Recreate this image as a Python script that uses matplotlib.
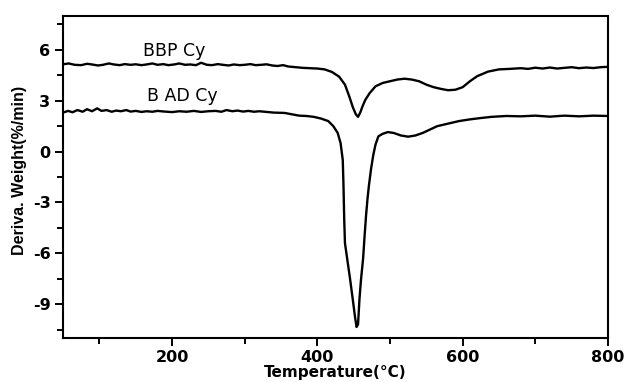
import numpy as np
import matplotlib
matplotlib.use('Agg')
import matplotlib.pyplot as plt
from matplotlib.ticker import MultipleLocator

# DTG curves (temperature in C, derivative weight in %/min)
bbp_T = [50, 58, 66, 75, 83, 90, 98, 105, 113, 120, 128, 135, 143, 150, 158, 165,
         173, 180, 188, 195, 203, 210, 218, 225, 233, 240, 248, 255, 263, 270, 278,
         285, 293, 300, 308, 315, 323, 330, 338, 345, 353, 360, 370, 380, 390, 400,
         410, 420, 430, 438, 444, 449, 453, 456, 459, 462, 466, 472, 480, 490, 500,
         510, 520, 530, 540, 550, 560, 570, 580, 590, 600, 610, 620, 635, 650, 665,
         680, 690, 700, 710, 720, 730, 740, 750, 760, 770, 780, 790, 800]
bbp_y = [5.15, 5.2, 5.12, 5.1, 5.18, 5.14, 5.08, 5.12, 5.2, 5.14, 5.1, 5.16, 5.12, 5.15, 5.1, 5.14,
         5.2, 5.12, 5.16, 5.1, 5.14, 5.2, 5.12, 5.14, 5.1, 5.24, 5.12, 5.1, 5.16, 5.12, 5.08,
         5.14, 5.1, 5.12, 5.16, 5.1, 5.12, 5.15, 5.08, 5.05, 5.1, 5.02, 4.98, 4.94, 4.92, 4.9,
         4.85, 4.7, 4.42, 3.95, 3.25, 2.6, 2.2, 2.05, 2.3, 2.65, 3.05, 3.45, 3.85, 4.05, 4.15,
         4.25, 4.3, 4.25, 4.15, 3.95, 3.8, 3.7, 3.62, 3.65, 3.8, 4.15, 4.45, 4.72, 4.85, 4.88,
         4.92, 4.88, 4.95, 4.9, 4.96, 4.9, 4.94, 4.98, 4.92, 4.96, 4.93, 4.98, 5.0]

bad_T = [50, 57, 63, 70, 77, 83, 90, 97, 103, 110, 117, 123, 130, 137, 143, 150, 158,
         165, 173, 180, 190, 200, 210, 220, 230, 240, 250, 260, 268, 275, 283, 290,
         298, 305, 313, 320, 330, 340, 355, 365, 375, 385, 395, 405, 415, 422, 428,
         432, 435, 436, 437, 438, 441, 445, 449, 452, 454, 456, 458, 460, 463, 465,
         467, 469, 471, 474, 477, 480, 484, 490, 497, 505, 515, 525, 535, 545, 555,
         565, 580, 595, 610, 625, 640, 660, 680, 700, 720, 740, 760, 780, 800]
bad_y = [2.3, 2.4, 2.32, 2.45, 2.35, 2.5, 2.38, 2.55, 2.4, 2.45, 2.35, 2.42, 2.38, 2.45, 2.36, 2.4, 2.34,
         2.38, 2.35, 2.4, 2.36, 2.33, 2.38, 2.35, 2.4, 2.34, 2.38, 2.4, 2.35, 2.45, 2.38, 2.42,
         2.36, 2.4, 2.35, 2.38, 2.34, 2.3, 2.28, 2.2, 2.12, 2.1, 2.05, 1.95, 1.8, 1.5, 1.1,
         0.5, -0.5, -2.0, -4.0, -5.4, -6.3, -7.5, -8.8, -9.8, -10.35, -10.2, -8.7, -7.6, -6.3, -5.0,
         -3.8, -2.8, -2.0, -1.0, -0.2, 0.4, 0.9, 1.05, 1.15, 1.1, 0.95, 0.88, 0.95, 1.1, 1.3,
         1.5, 1.65, 1.8, 1.9, 1.98, 2.05, 2.1, 2.08, 2.12, 2.06, 2.12, 2.08, 2.12, 2.1]

plt.rcParams['font.family'] = ['DejaVu Sans']
plt.rcParams['axes.unicode_minus'] = False

fig = plt.figure(figsize=(6.25, 3.82), dpi=100)
ax = fig.add_axes([63/625, 1 - 338/382, (608-63)/625, (338-16)/382])

ax.plot(bbp_T, bbp_y, color='black', lw=1.7)
ax.plot(bad_T, bad_y, color='black', lw=1.7)

ax.text(160, 5.95, 'BBP Cy', fontsize=12.5, va='center', ha='left')
ax.text(166, 3.3, 'B AD Cy', fontsize=12.5, va='center', ha='left')

ax.set_xlim(50, 800)
ax.set_ylim(-11, 8)
ax.xaxis.set_major_locator(MultipleLocator(200))
ax.xaxis.set_minor_locator(MultipleLocator(100))
ax.yaxis.set_major_locator(MultipleLocator(3))
ax.yaxis.set_minor_locator(MultipleLocator(1.5))

ax.tick_params(which='both', direction='out', width=1.4, top=False, right=False,
               labelsize=11.5)
ax.tick_params(which='major', length=6, pad=3)
ax.tick_params(which='minor', length=4)
for lab in ax.get_xticklabels() + ax.get_yticklabels():
    lab.set_fontweight('bold')

for sp in ax.spines.values():
    sp.set_linewidth(1.5)

ax.set_xlabel('Temperature(°C)', fontsize=11, fontweight='bold', labelpad=0)
ax.set_ylabel('Deriva. Weight(%/min)', fontsize=11.5, fontweight='bold',
              family=['Liberation Sans Narrow', 'Liberation Sans', 'DejaVu Sans'])
ax.yaxis.set_label_coords(-0.066, 0.52)

fig.savefig('out.png', dpi=100)
